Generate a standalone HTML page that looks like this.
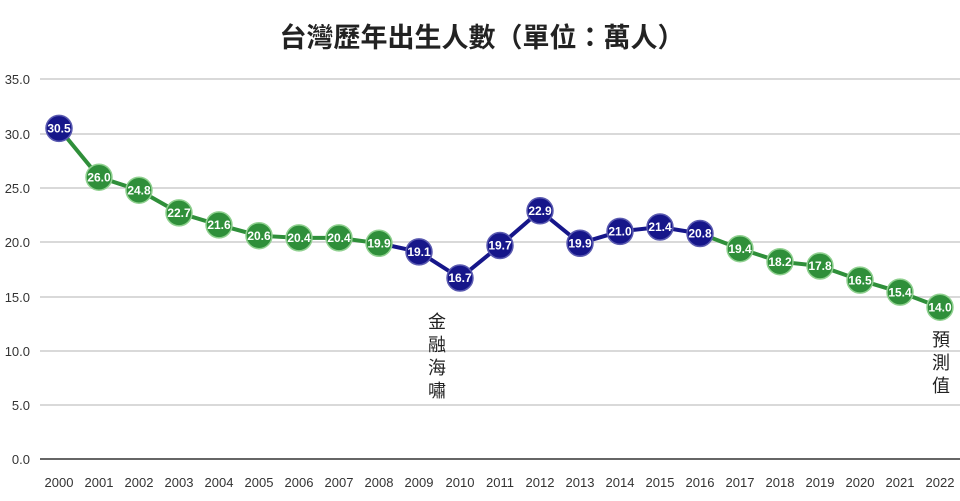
<!DOCTYPE html>
<html><head><meta charset="utf-8"><style>
html,body{margin:0;padding:0;background:#fff;}
svg{display:block;font-family:"Liberation Sans","Noto Sans CJK TC",sans-serif;}
</style></head><body>
<svg width="960" height="501" viewBox="0 0 960 501">
<text x="482" y="47" text-anchor="middle" font-size="27" font-weight="bold" fill="#222" font-family="'Noto Sans CJK TC',sans-serif">台灣歷年出生人數（單位：萬人）</text>
<g stroke="#d9d9d9" stroke-width="2">
<line x1="40" x2="960" y1="79" y2="79"/><line x1="40" x2="960" y1="134" y2="134"/>
<line x1="40" x2="960" y1="188" y2="188"/><line x1="40" x2="960" y1="242" y2="242"/>
<line x1="40" x2="960" y1="297" y2="297"/><line x1="40" x2="960" y1="351" y2="351"/>
<line x1="40" x2="960" y1="405" y2="405"/>
</g>
<line x1="40" x2="960" y1="459" y2="459" stroke="#666" stroke-width="2"/>
<g font-size="13" fill="#333" text-anchor="end">
<text x="30" y="84">35.0</text><text x="30" y="139">30.0</text><text x="30" y="193">25.0</text>
<text x="30" y="247">20.0</text><text x="30" y="302">15.0</text><text x="30" y="356">10.0</text>
<text x="30" y="410">5.0</text><text x="30" y="464">0.0</text>
</g>
<g font-size="13" fill="#333" text-anchor="middle">
<text x="59" y="487">2000</text><text x="99" y="487">2001</text><text x="139" y="487">2002</text><text x="179" y="487">2003</text>
<text x="219" y="487">2004</text><text x="259" y="487">2005</text><text x="299" y="487">2006</text><text x="339" y="487">2007</text>
<text x="379" y="487">2008</text><text x="419" y="487">2009</text><text x="460" y="487">2010</text><text x="500" y="487">2011</text>
<text x="540" y="487">2012</text><text x="580" y="487">2013</text><text x="620" y="487">2014</text><text x="660" y="487">2015</text>
<text x="700" y="487">2016</text><text x="740" y="487">2017</text><text x="780" y="487">2018</text><text x="820" y="487">2019</text>
<text x="860" y="487">2020</text><text x="900" y="487">2021</text><text x="940" y="487">2022</text>
</g>
<g stroke-width="4" fill="none">
<polyline stroke="#2f8f3a" points="59,128.4 99,177.2 139,190.2 179,212.9 219,224.9 259,235.7 299,237.9 339,237.9 379,243.3"/>
<polyline stroke="#16168a" points="379,243.3 419,251.9 460,278 500,245.5 540,210.8 580,243.3 620,231.4 660,227 700,233.5"/>
<polyline stroke="#2f8f3a" points="700,233.5 740,248.7 780,261.7 820,266 860,280.1 900,292.1 940,307.2"/>
</g>
<g stroke-width="1.5">
<g fill="#16168a" stroke="#5a5ab0">
<circle cx="59" cy="128.4" r="13"/><circle cx="419" cy="251.9" r="13"/><circle cx="460" cy="278" r="13"/>
<circle cx="500" cy="245.5" r="13"/><circle cx="540" cy="210.8" r="13"/><circle cx="580" cy="243.3" r="13"/>
<circle cx="620" cy="231.4" r="13"/><circle cx="660" cy="227" r="13"/><circle cx="700" cy="233.5" r="13"/>
</g>
<g fill="#2f8f3a" stroke="#8fd08f">
<circle cx="99" cy="177.2" r="13"/><circle cx="139" cy="190.2" r="13"/><circle cx="179" cy="212.9" r="13"/>
<circle cx="219" cy="224.9" r="13"/><circle cx="259" cy="235.7" r="13"/><circle cx="299" cy="237.9" r="13"/>
<circle cx="339" cy="237.9" r="13"/><circle cx="379" cy="243.3" r="13"/><circle cx="740" cy="248.7" r="13"/>
<circle cx="780" cy="261.7" r="13"/><circle cx="820" cy="266" r="13"/><circle cx="860" cy="280.1" r="13"/>
<circle cx="900" cy="292.1" r="13"/><circle cx="940" cy="307.2" r="13"/>
</g>
</g>
<g font-size="12" font-weight="bold" fill="#fff" text-anchor="middle">
<text x="59" y="132.6">30.5</text><text x="99" y="181.4">26.0</text><text x="139" y="194.4">24.8</text>
<text x="179" y="217.1">22.7</text><text x="219" y="229.1">21.6</text><text x="259" y="239.9">20.6</text>
<text x="299" y="242.1">20.4</text><text x="339" y="242.1">20.4</text><text x="379" y="247.5">19.9</text>
<text x="419" y="256.1">19.1</text><text x="460" y="282.2">16.7</text><text x="500" y="249.7">19.7</text>
<text x="540" y="215">22.9</text><text x="580" y="247.5">19.9</text><text x="620" y="235.6">21.0</text>
<text x="660" y="231.2">21.4</text><text x="700" y="237.7">20.8</text><text x="740" y="252.9">19.4</text>
<text x="780" y="265.9">18.2</text><text x="820" y="270.2">17.8</text><text x="860" y="284.3">16.5</text>
<text x="900" y="296.3">15.4</text><text x="940" y="311.4">14.0</text>
</g>
<g font-size="18" fill="#222" text-anchor="middle" font-family="'Noto Sans CJK TC',sans-serif">
<text x="437" y="328">金</text><text x="437" y="351">融</text><text x="437" y="374">海</text><text x="437" y="397">嘯</text>
<text x="941" y="346">預</text><text x="941" y="369">測</text><text x="941" y="392">值</text>
</g>
</svg>
</body></html>
